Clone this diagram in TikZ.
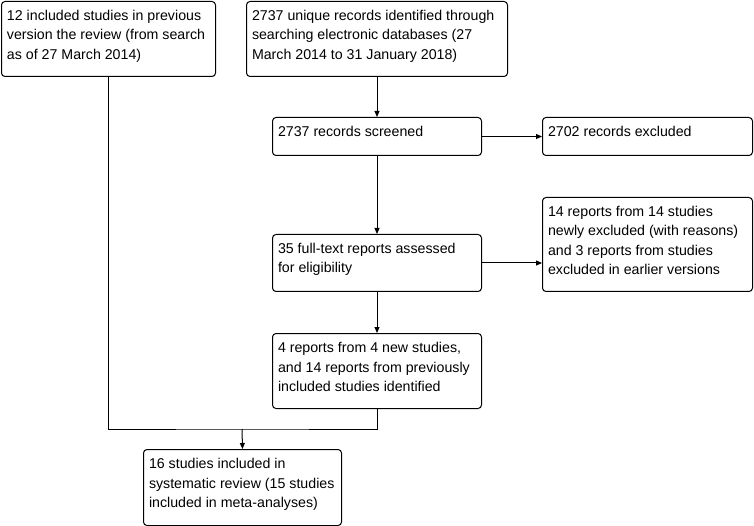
\documentclass[tikz,border=0pt]{standalone}
\usepackage{fontspec}
\setmainfont{Liberation Sans}
\usetikzlibrary{arrows.meta}
\newcommand{\flowtext}[3]{\parbox[t][#2pt][t]{#1pt}{\raggedright\leftskip=5.5pt\rule{0pt}{19pt}#3}}
\tikzset{
  flowbox/.style={draw, line width=1pt, rounded corners=3.5pt, anchor=north west, inner sep=0pt,
    font=\fontsize{14.2}{19.5}\selectfont},
  flowarrow/.style={line width=1pt, -{Triangle[length=6pt,width=5pt]}},
  flowline/.style={line width=1pt}
}

\begin{document}
\begin{tikzpicture}[x=1pt,y=-1pt]
        \useasboundingbox (0,0) rectangle (754,526);
        \node [flowbox] (previous) at (1,1) {\flowtext{214}{75}{12 included studies in previous\\version the review (from search\\as of 27 March 2014)}};
        \node [flowbox] (search) at (246,1) {\flowtext{261}{75}{2737 unique records identified through\\searching electronic databases (27\\March 2014 to 31 January 2018)}};
        \node [flowbox] (screened) at (272,117) {\flowtext{209}{38}{2737 records screened}};
        \node [flowbox] (excluded) at (542,117) {\flowtext{210}{38}{2702 records excluded}};
        \node [flowbox] (fulltext) at (272,234) {\flowtext{209}{57}{35 full-text reports assessed\\for eligibility}};
        \node [flowbox] (reasons) at (542,197) {\flowtext{210}{94}{14 reports from 14 studies\\newly excluded (with reasons)\\and 3 reports from studies\\excluded in earlier versions}};
        \node [flowbox] (newstudies) at (272,333) {\flowtext{209}{75}{4 reports from 4 new studies,\\and 14 reports from previously\\included studies identified}};
        \node [flowbox] (included) at (143,449) {\flowtext{198}{76}{16 studies included in\\systematic review (15 studies\\included in meta-analyses)}};
        \coordinate (merge) at (242,429);
        \draw [flowarrow] (search.south -| screened.north) -- (screened.north);
        \draw [flowarrow] (screened.east) -- (excluded.west);
        \draw [flowarrow] (screened.south) -- (fulltext.north);
        \draw [flowarrow] (fulltext.east) -- (fulltext.east -| reasons.west);
        \draw [flowarrow] (fulltext.south) -- (newstudies.north);
        \draw [flowline] (previous.south) |- (merge) -| (newstudies.south);
        \draw [flowarrow] (merge) -- (included.north);
\end{tikzpicture}
\end{document}
